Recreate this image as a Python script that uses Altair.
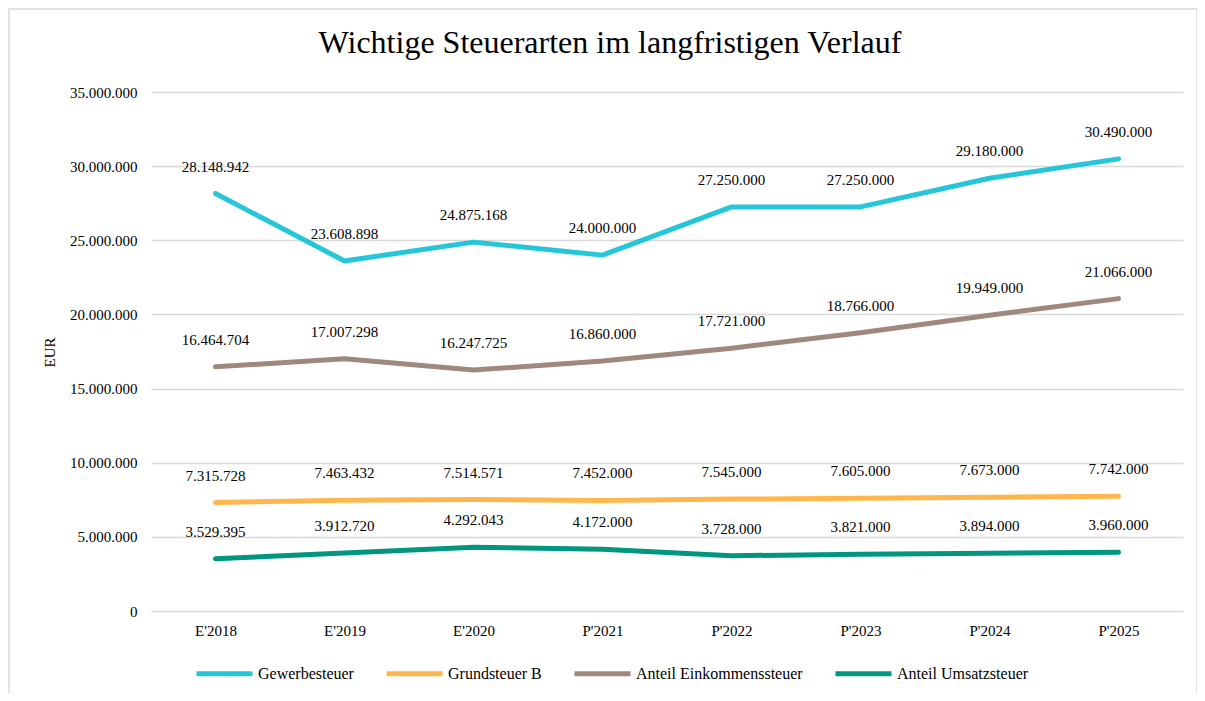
import altair as alt
import pandas as pd

years = ["E'2018", "E'2019", "E'2020", "P'2021", "P'2022", "P'2023", "P'2024", "P'2025"]
series_names = ["Gewerbesteuer", "Grundsteuer B", "Anteil Einkommenssteuer", "Anteil Umsatzsteuer"]
colors = ["#26C6DA", "#FFB74D", "#A1887F", "#00967F"]

gewerbe = [28148942, 23608898, 24875168, 24000000, 27250000, 27250000, 29180000, 30490000]
grund_b = [7315728, 7463432, 7514571, 7452000, 7545000, 7605000, 7673000, 7742000]
einkommen = [16464704, 17007298, 16247725, 16860000, 17721000, 18766000, 19949000, 21066000]
umsatz = [3529395, 3912720, 4292043, 4172000, 3728000, 3821000, 3894000, 3960000]

rows = []
for name, vals in zip(series_names, [gewerbe, grund_b, einkommen, umsatz]):
    for i, (y, v) in enumerate(zip(years, vals)):
        rows.append({"Jahr": y, "Serie": name, "Wert": v,
                     "Label": f"{v:,}".replace(",", "."), "order": i})
df = pd.DataFrame(rows)

FONT = "Liberation Serif"

x_enc = alt.X("Jahr:N", sort=years, title=None,
              scale=alt.Scale(type="point", padding=0.5),
              axis=alt.Axis(labelAngle=0, labelFont=FONT, labelFontSize=15, labelColor="#000000",
                            labelPadding=12, ticks=False, domain=False, grid=False))
y_enc = alt.Y("Wert:Q", title="EUR",
              scale=alt.Scale(domain=[0, 35000000]),
              axis=alt.Axis(values=[0, 5000000, 10000000, 15000000, 20000000, 25000000, 30000000, 35000000],
                            labelExpr="replace(format(datum.value, ',d'), /,/g, '.')",
                            labelFont=FONT, labelFontSize=15, labelColor="#000000", labelPadding=14,
                            ticks=False, domain=False, grid=True, gridColor="#d9d9d9", gridWidth=1.5,
                            titleFont=FONT, titleFontSize=15, titleFontWeight="normal", titleColor="#000000",
                            titleAngle=-90, titleX=-94, titleY=260, titleBaseline="bottom", titleAlign="center"))
color_enc = alt.Color("Serie:N", sort=series_names,
                      scale=alt.Scale(domain=series_names, range=colors),
                      legend=alt.Legend(title=None, orient="none", legendX=43, legendY=551,
                                        direction="horizontal", columns=4, symbolType="stroke",
                                        symbolSize=3136, symbolStrokeWidth=5, labelFont=FONT,
                                        labelFontSize=16, labelColor="#000000", labelOffset=3,
                                        labelLimit=400, columnPadding=22))

base = alt.Chart(df)

lines = base.mark_line(strokeWidth=5, strokeCap="round", strokeJoin="round").encode(
    x=x_enc, y=y_enc, color=color_enc, order="order:Q")

labels = base.mark_text(font=FONT, fontSize=15, color="#000000", dy=-27, baseline="middle").encode(
    x=alt.X("Jahr:N", sort=years), y="Wert:Q", text="Label:N")

frame = alt.Chart(pd.DataFrame({"a": [0]})).mark_rect(fill=None, stroke="#d9d9d9", strokeWidth=1.5).encode(
    x=alt.value(-142), x2=alt.value(1046), y=alt.value(-83), y2=alt.value(605))

chart = alt.layer(frame, lines, labels).properties(
    width=1032, height=519,
    autosize=alt.AutoSizeParams(type="none"),
    padding={"left": 143, "top": 84, "right": 14, "bottom": 82},
    title=alt.TitleParams("Wichtige Steuerarten im langfristigen Verlauf", font=FONT, fontSize=32,
                          fontWeight="normal", color="#000000", anchor="middle", dx=-57,
                          baseline="alphabetic", offset=-77)
).configure_view(stroke=None)

chart.save("out.html", embed_options={"renderer": "svg", "actions": False})
